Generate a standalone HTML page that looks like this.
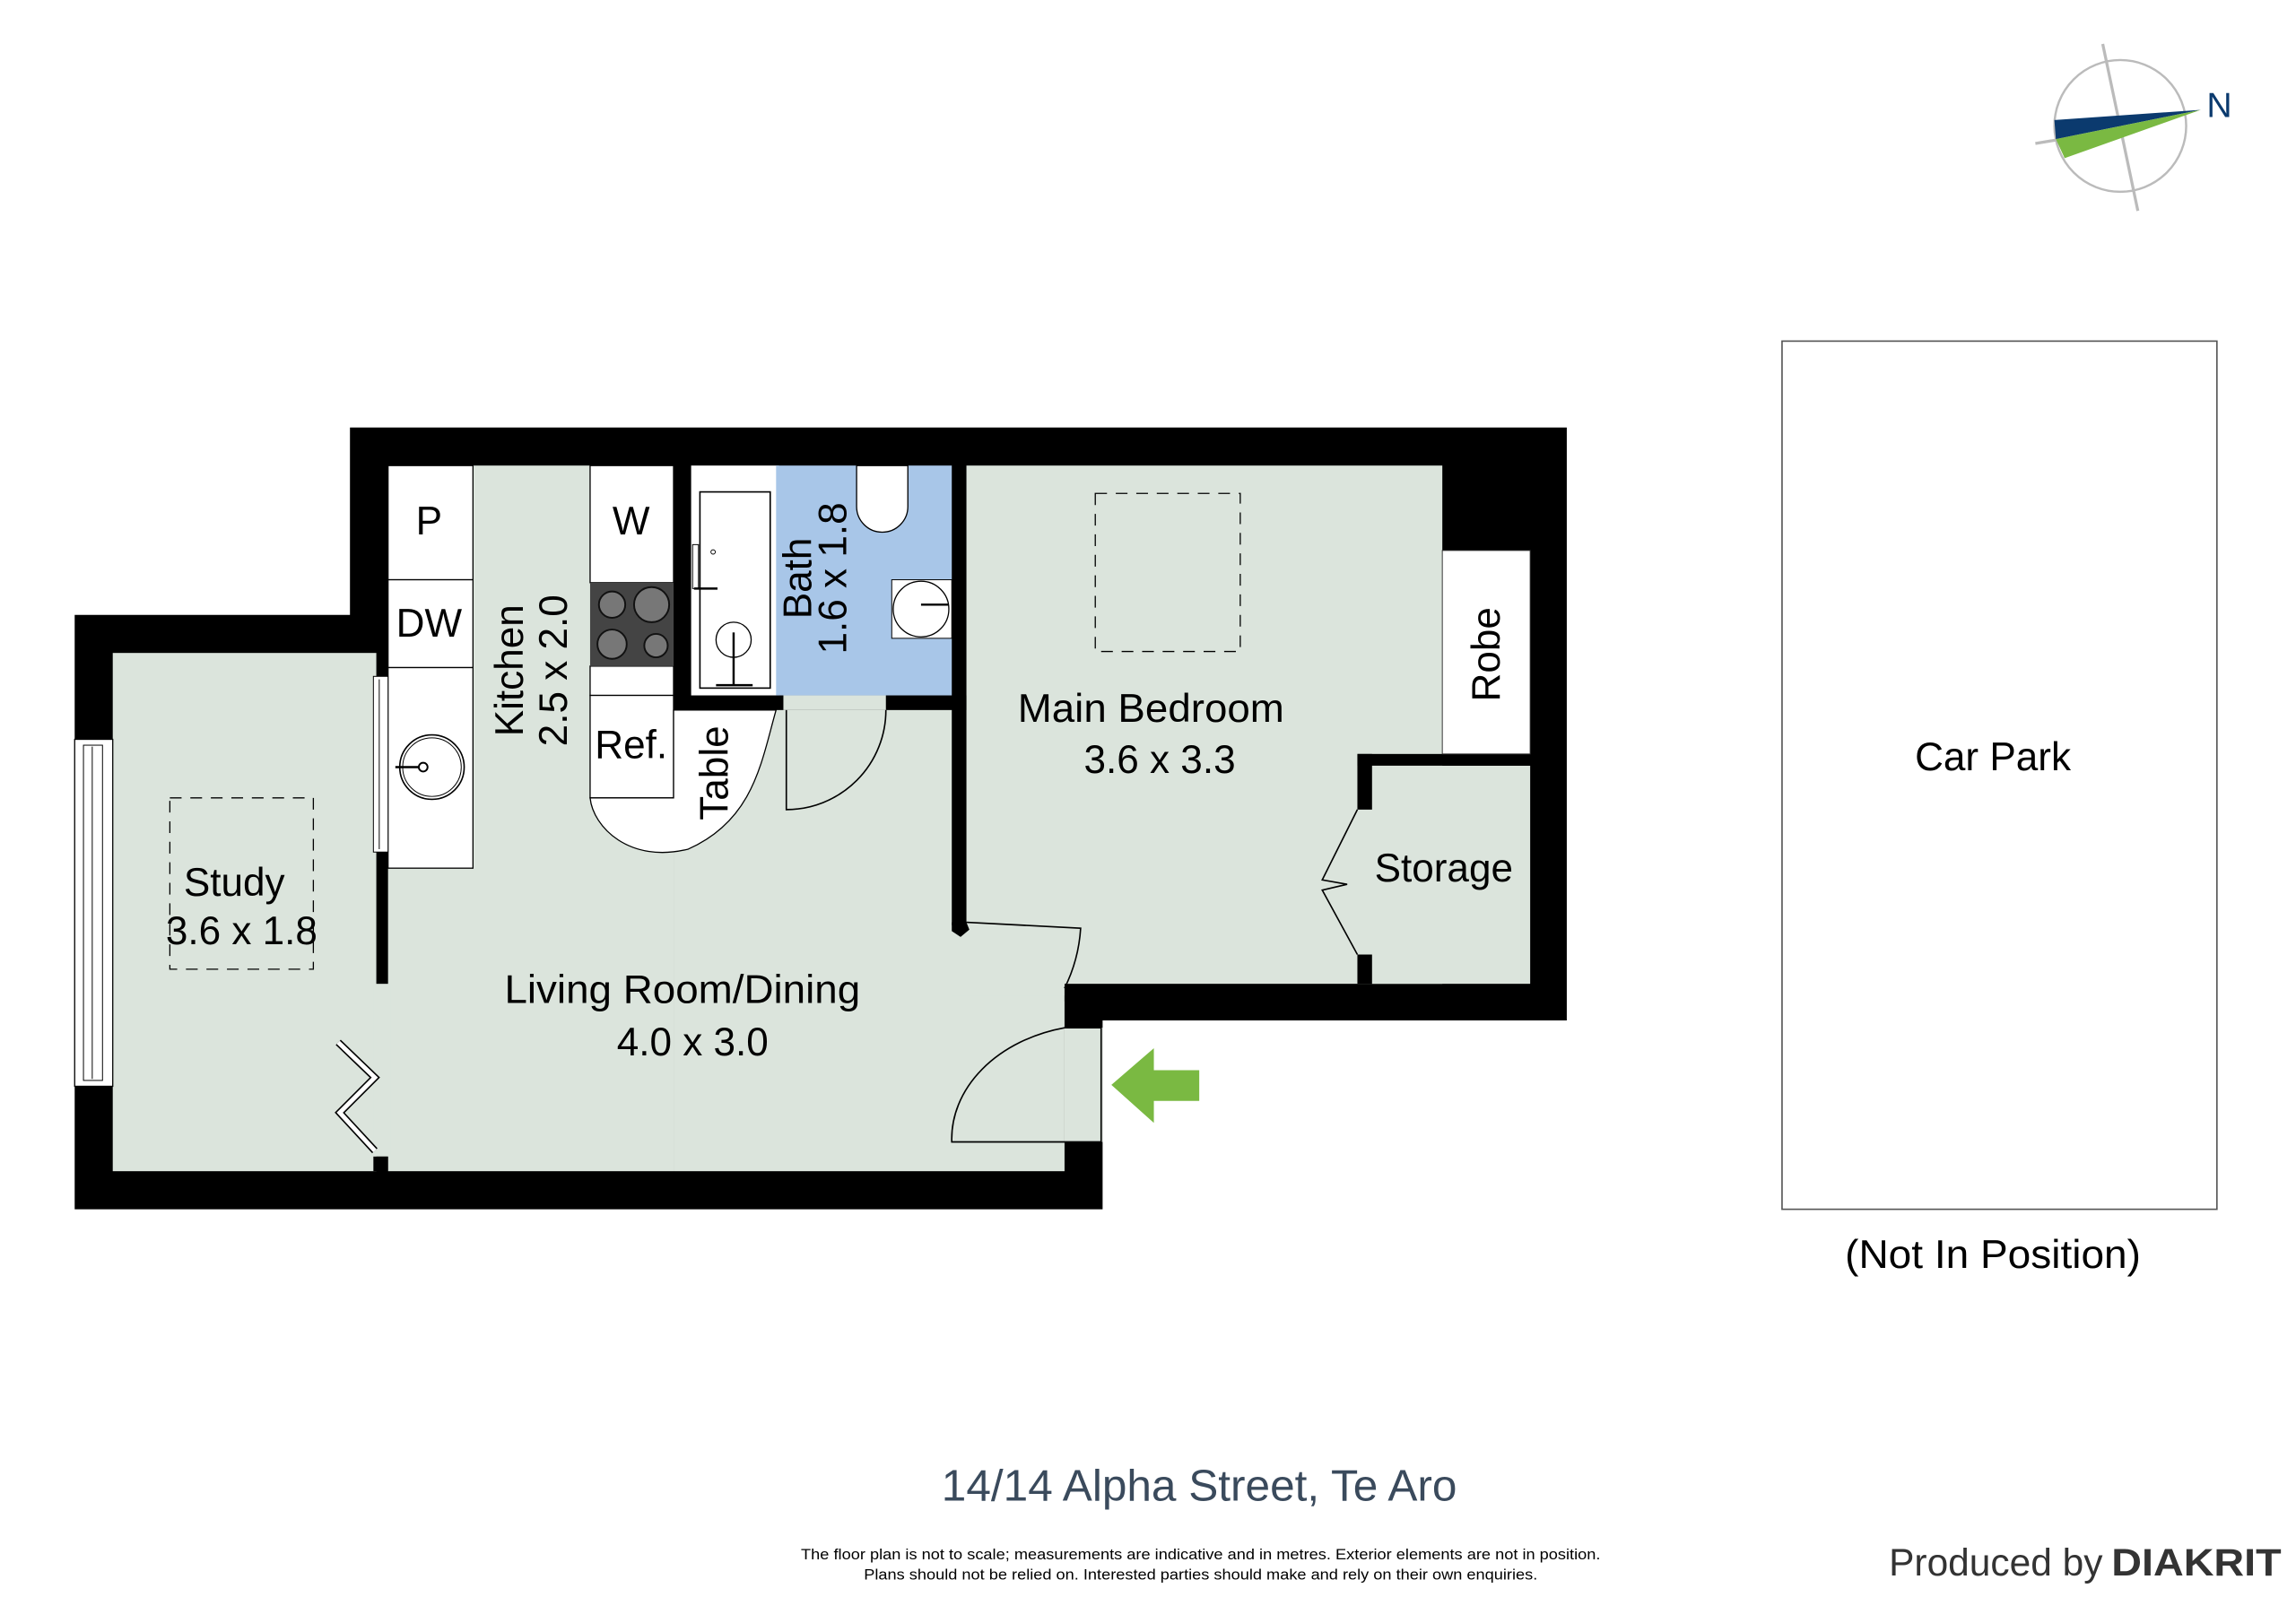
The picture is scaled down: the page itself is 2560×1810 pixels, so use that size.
<!DOCTYPE html>
<html><head><meta charset="utf-8"><style>html,body{margin:0;padding:0;background:#fff}svg{display:block}</style></head>
<body>
<svg width="2560" height="1810" viewBox="0 0 1568 1108.6" preserveAspectRatio="none" xmlns="http://www.w3.org/2000/svg" font-family="Liberation Sans, sans-serif">
<rect width="1568" height="1109" fill="#fff"/>
<!-- outer walls -->
<polygon points="239,292 1070,292 1070,697 753,697 753,826 51,826 51,420 239,420" fill="#000"/>
<g fill="#dbe4dc">
<rect x="77" y="446" width="180" height="354"/>
<rect x="265" y="318" width="195" height="482"/>
<rect x="255" y="672" width="12" height="118"/>
<rect x="460" y="485" width="267" height="315"/>
<rect x="727" y="702" width="26" height="78"/>
<rect x="660" y="318" width="325" height="354"/>
<rect x="937" y="523" width="108" height="149"/>
<rect x="650" y="630" width="10" height="50"/>
<rect x="660" y="672" width="67" height="8"/>
<rect x="535" y="475" width="70" height="10"/>
</g>
<!-- interior walls -->
<g fill="#000">
<rect x="927" y="515" width="118" height="8"/>
<rect x="927" y="515" width="10" height="38"/>
<rect x="927" y="652" width="10" height="20"/>
<rect x="650" y="475" width="10" height="157"/>
</g>
<!-- bedroom door wall corner -->
<polygon points="650,630 660,630 662,635 656,640 650,636" fill="#000"/>
<polygon points="727,675 732,680 727,684" fill="#000"/>
<!-- bath -->
<rect x="472" y="318" width="60" height="157" fill="#fff"/>
<rect x="530" y="318" width="120" height="157" fill="#a8c6e8"/>
<rect x="478" y="336" width="48" height="134" fill="#fff" stroke="#000" stroke-width="1"/>
<circle cx="501" cy="437" r="12" fill="#fff" stroke="#000" stroke-width="0.8"/>
<line x1="501" y1="432" x2="501" y2="468" stroke="#000" stroke-width="1.5"/>
<line x1="489" y1="468" x2="514" y2="468" stroke="#000" stroke-width="1.5"/>
<rect x="473" y="372" width="4" height="30" fill="#fff" stroke="#000" stroke-width="0.6"/>
<line x1="474" y1="402" x2="490" y2="402" stroke="#000" stroke-width="1.5"/>
<circle cx="487" cy="377" r="1.5" fill="none" stroke="#000" stroke-width="0.6"/>
<path d="M585,318 h35 v28 a17,17 0 0 1 -35,0 z" fill="#fff" stroke="#000" stroke-width="0.8"/>
<rect x="609" y="396" width="41" height="40" fill="#fff" stroke="#000" stroke-width="0.6"/>
<ellipse cx="629" cy="416" rx="19" ry="19" fill="#fff" stroke="#000" stroke-width="0.8"/>
<line x1="629" y1="413" x2="648" y2="413" stroke="#000" stroke-width="1.5"/>
<!-- kitchen cabinets -->
<g fill="#fff" stroke="#000" stroke-width="0.8">
<rect x="265" y="318" width="58" height="78"/>
<rect x="265" y="396" width="58" height="60"/>
<rect x="265" y="456" width="58" height="137"/>
<rect x="403" y="318" width="57" height="80"/>
<rect x="403" y="455" width="57" height="20"/>
<rect x="403" y="475" width="57" height="70"/>
</g>
<circle cx="295" cy="524" r="22" fill="#fff" stroke="#000" stroke-width="1"/>
<circle cx="295" cy="524" r="20" fill="none" stroke="#000" stroke-width="0.6"/>
<circle cx="289" cy="524" r="3" fill="none" stroke="#000" stroke-width="1.2"/>
<line x1="270" y1="524" x2="286" y2="524" stroke="#000" stroke-width="1.5"/>
<rect x="255" y="462" width="10" height="120" fill="#fff" stroke="#000" stroke-width="0.6"/>
<line x1="259" y1="464" x2="259" y2="580" stroke="#000" stroke-width="0.6"/>
<rect x="403" y="398" width="57" height="57" fill="#444"/>
<g fill="#777" stroke="#111" stroke-width="1.2">
<circle cx="418" cy="413" r="9"/><circle cx="445" cy="413" r="12"/>
<circle cx="418" cy="440" r="10"/><circle cx="448" cy="441" r="8"/>
</g>
<!-- table -->
<path d="M403,545 h57 v-60 h70 C520,520 515,560 470,580 C430,590 405,565 403,545 z" fill="#fff" stroke="#000" stroke-width="0.8"/>
<!-- study window -->
<rect x="51" y="505" width="26" height="237" fill="#fff" stroke="#000" stroke-width="0.8"/>
<rect x="57" y="509" width="13" height="229" fill="#fff" stroke="#000" stroke-width="0.6"/>
<line x1="63" y1="510" x2="63" y2="737" stroke="#000" stroke-width="0.6"/>
<!-- study bifold -->
<path d="M231,712 L256,736 L232,760 L256,786" fill="none" stroke="#000" stroke-width="5"/>
<path d="M231,712 L256,736 L232,760 L256,786" fill="none" stroke="#fff" stroke-width="3"/>
<rect x="255" y="790" width="10" height="10" fill="#000"/>
<!-- dashed boxes -->
<rect x="116" y="545" width="98" height="117" fill="none" stroke="#000" stroke-width="0.8" stroke-dasharray="8,6"/>
<rect x="748" y="337" width="99" height="108" fill="none" stroke="#000" stroke-width="0.8" stroke-dasharray="8,6"/>
<!-- doors -->
<g fill="none" stroke="#000" stroke-width="1">
<path d="M537,485 V553 A68,68 0 0 0 605,485"/>
<path d="M660,630 L738,634 C737,650 733,663 727,675"/>
<path d="M752,702 V780 H650 A100,78 0 0 1 727,702 H752"/>
<path d="M927,553 L903,601 L920,604 L903,608 L927,652"/>
</g>
<!-- robe -->
<rect x="985" y="376" width="60" height="139" fill="#fff" stroke="#333" stroke-width="0.6"/>
<!-- entry arrow -->
<polygon points="759,741 788,716 788,731 819,731 819,752 788,752 788,767" fill="#7ab942"/>
<!-- car park -->
<rect x="1217" y="233" width="297" height="593" fill="#fff" stroke="#555" stroke-width="1"/>
<!-- compass -->
<line x1="1436" y1="30" x2="1460" y2="144" stroke="#bbb" stroke-width="2"/>
<line x1="1390" y1="98" x2="1420" y2="93" stroke="#bbb" stroke-width="2"/>
<circle cx="1448" cy="86" r="45" fill="none" stroke="#bbb" stroke-width="1.5"/>
<polygon points="1403,82 1503,75 1404,95" fill="#0b3a6e"/>
<polygon points="1404,95 1503,75 1410,108" fill="#7ab942"/>
<text x="1507" y="80" font-size="24" fill="#0b3a6e">N</text>
<!-- labels -->
<g font-size="27" fill="#000" text-anchor="middle">
<text x="293" y="365">P</text>
<text x="293" y="435">DW</text>
<text x="431" y="365">W</text>
<text x="431" y="518">Ref.</text>
<text x="786" y="493" textLength="182" lengthAdjust="spacingAndGlyphs">Main Bedroom</text>
<text x="792" y="528">3.6 x 3.3</text>
<text x="986" y="602">Storage</text>
<text x="160" y="612">Study</text>
<text x="165" y="645">3.6 x 1.8</text>
<text x="466" y="685" textLength="243" lengthAdjust="spacingAndGlyphs">Living Room/Dining</text>
<text x="473" y="721">4.0 x 3.0</text>
<text x="1361" y="526">Car Park</text>
<text x="1361" y="866" textLength="202" lengthAdjust="spacingAndGlyphs">(Not In Position)</text>
<text transform="translate(357,458) rotate(-90)">Kitchen</text>
<text transform="translate(387,458) rotate(-90)">2.5 x 2.0</text>
<text transform="translate(554,395) rotate(-90)">Bath</text>
<text transform="translate(578,395) rotate(-90)">1.6 x 1.8</text>
<text transform="translate(497,528) rotate(-90)">Table</text>
<text transform="translate(1024,447) rotate(-90)">Robe</text>
</g>
<text x="819" y="1025" font-size="30" fill="#3a4a5c" text-anchor="middle" textLength="352" lengthAdjust="spacingAndGlyphs">14/14 Alpha Street, Te Aro</text>
<text x="820" y="1065" font-size="10" fill="#000" text-anchor="middle" textLength="546" lengthAdjust="spacingAndGlyphs">The floor plan is not to scale; measurements are indicative and in metres. Exterior elements are not in position.</text>
<text x="820" y="1079" font-size="10" fill="#000" text-anchor="middle" textLength="460" lengthAdjust="spacingAndGlyphs">Plans should not be relied on. Interested parties should make and rely on their own enquiries.</text>
<text x="1290" y="1076" font-size="26" fill="#333" textLength="146" lengthAdjust="spacingAndGlyphs">Produced by</text>
<text x="1442" y="1076" font-size="26" font-weight="bold" fill="#333" textLength="116" lengthAdjust="spacingAndGlyphs">DIAKRIT</text>
</svg>
</body></html>
